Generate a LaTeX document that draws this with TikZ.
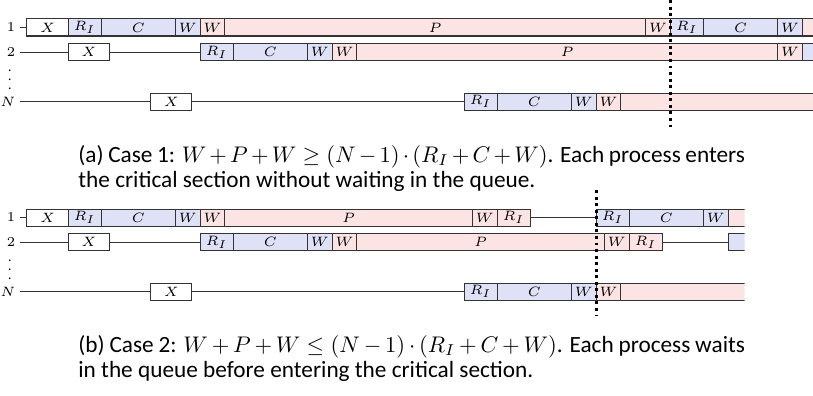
\documentclass[tikz,border=0pt]{standalone}
\usepackage{fontspec}
\setmainfont{Carlito}
\usetikzlibrary{positioning}
\definecolor{csblue}{HTML}{DFE1F7}
\definecolor{prpink}{HTML}{FCE4E4}
\tikzset{>=stealth}
\tikzset{
  seg/.style={draw=black!80,line width=.45pt,minimum width=#1*0.385cm,minimum height=0.265cm,
    inner sep=0pt,outer sep=0pt,anchor=west,font=\fontsize{6}{7}\selectfont},
  outside/.style={seg=#1,fill=white},
  crit/.style={seg=#1,fill=csblue},
  priv/.style={seg=#1,fill=prpink},
  proc/.style={anchor=east,inner sep=2pt,font=\fontsize{6}{7}\selectfont},
  wire/.style={draw=black!80,line width=.45pt},
  cutline/.style={line width=1.3pt,dash pattern=on 1.3pt off 1.6pt},
  capt/.style={anchor=north west,inner sep=0pt,text width=10.37cm,align=justify,
    font=\fontsize{10.3}{11}\selectfont}
}

\begin{document}
\begin{tikzpicture}[x=0.385cm,y=0.385cm]
\useasboundingbox (-1.09,1.11) rectangle (31.76,-14.85);
\begin{scope}
\clip (-1.09,1.11) rectangle (31.76,-4.5);
\node[proc] (a1) at (-0.28,0) {$1$};
\node[proc] (a2) at (-0.28,-1) {$2$};
\node[proc] (aN) at (-0.28,-3) {$N$};
\node[proc,anchor=center] (adots) at (-0.69,-1.84) {$\vdots$};
\node[outside=5/3] (a1x) at (0,0) {$X$};
\node[crit=4/3,right=0pt of a1x] (a1r) {$R_I$};
\node[crit=3,right=0pt of a1r] (a1c) {$C$};
\node[crit=1,right=0pt of a1c] (a1w) {$W$};
\node[priv=1,right=0pt of a1w] (a1wp) {$W$};
\node[priv=17,right=0pt of a1wp] (a1p) {$P$};
\node[priv=1,right=0pt of a1p] (a1wq) {$W$};
\node[crit=4/3,right=0pt of a1wq] (a1rr) {$R_I$};
\node[crit=3,right=0pt of a1rr] (a1cc) {$C$};
\node[crit=1,right=0pt of a1cc] (a1ww) {$W$};
\node[priv=3,right=0pt of a1ww] (a1tail) {};
\draw[wire] (a1.east) -- (a1x.west);
\node[outside=5/3] (a2x) at (5/3,-1) {$X$};
\node[crit=4/3] (a2r) at (a1w.east |- a2x) {$R_I$};
\node[crit=3,right=0pt of a2r] (a2c) {$C$};
\node[crit=1,right=0pt of a2c] (a2w) {$W$};
\node[priv=1,right=0pt of a2w] (a2wp) {$W$};
\node[priv=17,right=0pt of a2wp] (a2p) {$P$};
\node[priv=1,right=0pt of a2p] (a2wq) {$W$};
\node[crit=3,right=0pt of a2wq] (a2tail) {};
\draw[wire] (a2.east) -- (a2x.west) (a2x.east) -- (a2r.west);
\node[outside=5/3] (aNx) at (5,-3) {$X$};
\node[crit=4/3] (aNr) at (53/3,-3) {$R_I$};
\node[crit=3,right=0pt of aNr] (aNc) {$C$};
\node[crit=1,right=0pt of aNc] (aNw) {$W$};
\node[priv=1,right=0pt of aNw] (aNwp) {$W$};
\node[priv=12,right=0pt of aNwp] (aNtail) {};
\draw[wire] (aN.east) -- (aNx.west) (aNx.east) -- (aNr.west);
\end{scope}
\coordinate (acut1) at (26,1.11);
\coordinate (acut2) at (26,-4.06);
\draw[cutline] (acut1) -- (acut2);
\node[capt] (capa) at (2.06,-4.75) {(a) Case 1: $W+P+W \geq (N-1)\cdot(R_I+C+W)$. Each process enters\linebreak the critical section without waiting in the queue.};
\begin{scope}[shift={(0,-7.68)}]
\begin{scope}
\clip (-1.09,1.11) rectangle (29,-3.5);
\node[proc] (b1) at (-0.28,0) {$1$};
\node[proc] (b2) at (-0.28,-1) {$2$};
\node[proc] (bN) at (-0.28,-3) {$N$};
\node[proc,anchor=center] (bdots) at (-0.69,-1.84) {$\vdots$};
\node[outside=5/3] (b1x) at (0,0) {$X$};
\node[crit=4/3,right=0pt of b1x] (b1r) {$R_I$};
\node[crit=3,right=0pt of b1r] (b1c) {$C$};
\node[crit=1,right=0pt of b1c] (b1w) {$W$};
\node[priv=1,right=0pt of b1w] (b1wp) {$W$};
\node[priv=10,right=0pt of b1wp] (b1p) {$P$};
\node[priv=1,right=0pt of b1p] (b1wq) {$W$};
\node[priv=4/3,right=0pt of b1wq] (b1rq) {$R_I$};
\node[crit=4/3] (b1rr) at (23,0) {$R_I$};
\node[crit=3,right=0pt of b1rr] (b1cc) {$C$};
\node[crit=1,right=0pt of b1cc] (b1ww) {$W$};
\node[priv=3,right=0pt of b1ww] (b1tail) {};
\draw[wire] (b1.east) -- (b1x.west) (b1rq.east) -- (b1rr.west);
\node[outside=5/3] (b2x) at (5/3,-1) {$X$};
\node[crit=4/3] (b2r) at (b1w.east |- b2x) {$R_I$};
\node[crit=3,right=0pt of b2r] (b2c) {$C$};
\node[crit=1,right=0pt of b2c] (b2w) {$W$};
\node[priv=1,right=0pt of b2w] (b2wp) {$W$};
\node[priv=10,right=0pt of b2wp] (b2p) {$P$};
\node[priv=1,right=0pt of b2p] (b2wq) {$W$};
\node[priv=4/3,right=0pt of b2wq] (b2rq) {$R_I$};
\node[crit=3] (b2tail) at (b1ww.east |- b2x) {};
\draw[wire] (b2.east) -- (b2x.west) (b2x.east) -- (b2r.west) (b2rq.east) -- (b2tail.west);
\node[outside=5/3] (bNx) at (5,-3) {$X$};
\node[crit=4/3] (bNr) at (53/3,-3) {$R_I$};
\node[crit=3,right=0pt of bNr] (bNc) {$C$};
\node[crit=1,right=0pt of bNc] (bNw) {$W$};
\node[priv=1,right=0pt of bNw] (bNwp) {$W$};
\node[priv=8,right=0pt of bNwp] (bNtail) {};
\draw[wire] (bN.east) -- (bNx.west) (bNx.east) -- (bNr.west);
\end{scope}
\coordinate (bcut1) at (23,1.11);
\coordinate (bcut2) at (23,-3.98);
\draw[cutline] (bcut1) -- (bcut2);
\node[capt] (capb) at (2.06,-4.75) {(b) Case 2: $W+P+W \leq (N-1)\cdot(R_I+C+W)$. Each process waits\linebreak in the queue before entering the critical section.};
\end{scope}
\end{tikzpicture}
\end{document}
